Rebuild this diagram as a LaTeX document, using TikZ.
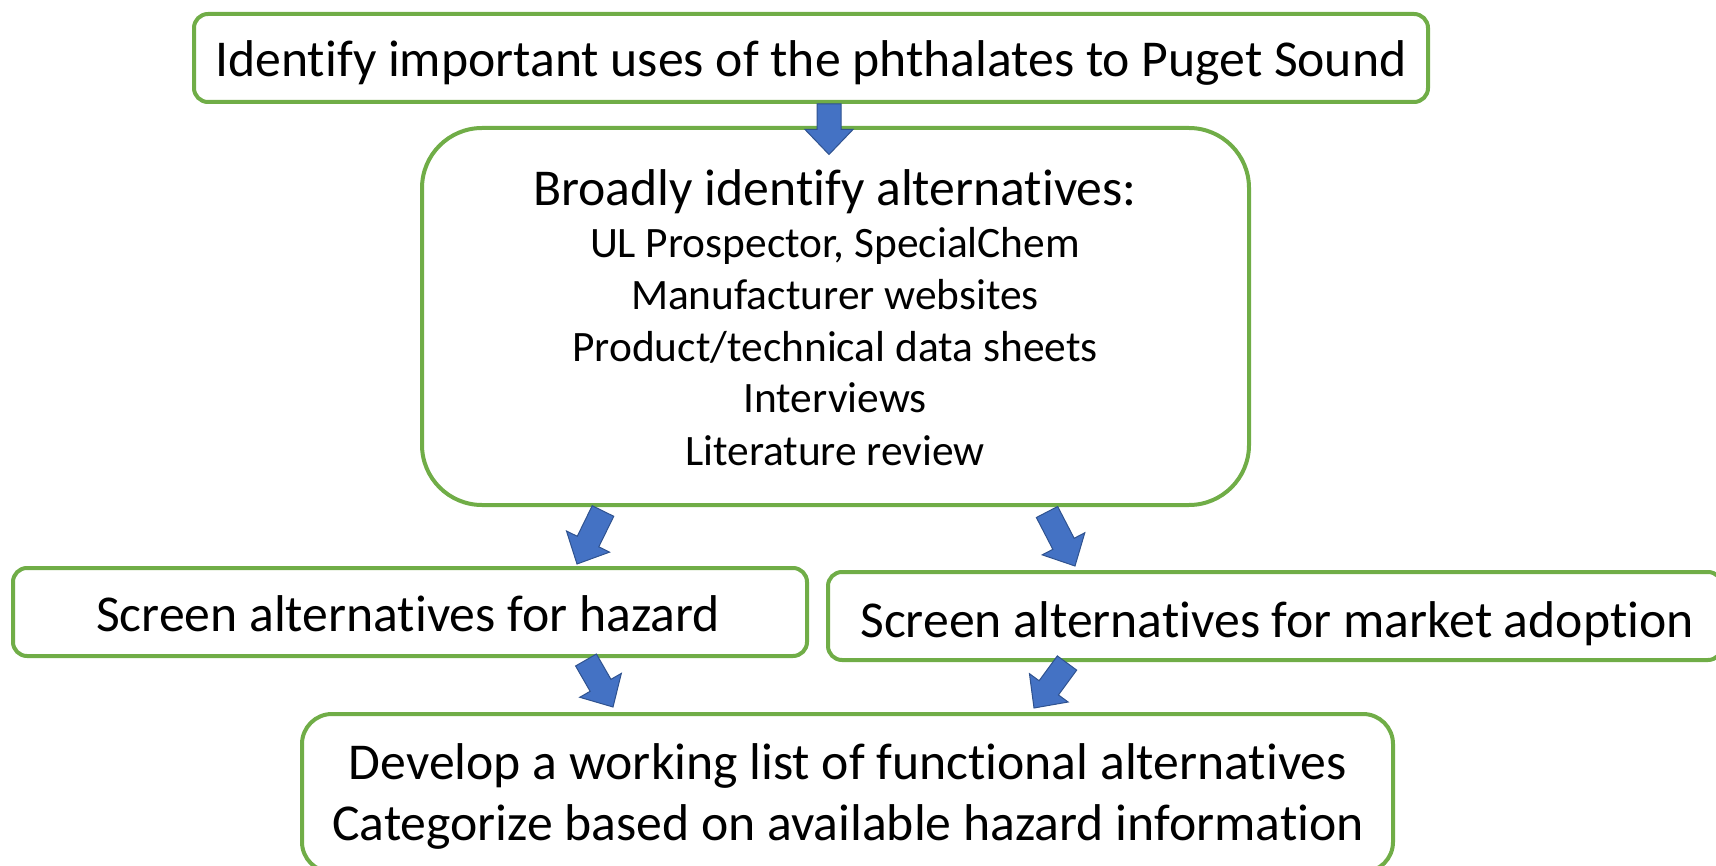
\documentclass[tikz,border=0pt]{standalone}
\usepackage{fontspec}
\setmainfont{Carlito}[Ligatures={NoCommon}]
\usetikzlibrary{calc}
\definecolor{boxgreen}{HTML}{70AD47}
\definecolor{arrowblue}{HTML}{4472C4}
\definecolor{arrowedge}{HTML}{2F528F}

\tikzset{
  stepbox/.style={draw=boxgreen, line width=4pt, fill=white, inner sep=0pt,
    rectangle, rounded corners=14pt},
  bigtext/.style={font=\fontsize{51.7}{62}\selectfont},
  smalltext/.style={font=\fontsize{43.4}{52}\selectfont},
  txt/.style={anchor=base, inner sep=0pt},
  flow/.style={fill=arrowblue, draw=arrowedge, line width=1pt, line join=miter},
}

% block arrow from coordinate #1 to the tip #2
\newcommand\fatarrow[2]{%
  \coordinate (neck) at ($(#2)!25pt!(#1)$);
  \filldraw[flow] ($(#1)!12pt!90:(#2)$) -- ($(neck)!12pt!-90:(#1)$)
    -- ($(neck)!24pt!-90:(#1)$) -- (#2) -- ($(neck)!24pt!90:(#1)$)
    -- ($(neck)!12pt!90:(#1)$) -- ($(#1)!12pt!-90:(#2)$) -- cycle;
}

\begin{document}
\begin{tikzpicture}[x=1pt, y=-1pt]
\useasboundingbox (0,0) rectangle (1716,866);

% boxes
\node[stepbox, minimum width=1234pt, minimum height=88pt] (uses) at (811,58) {};
\node[stepbox, rounded corners=60pt, minimum width=827pt, minimum height=377pt] (broad) at (835.5,316.5) {};
\node[stepbox, minimum width=794pt, minimum height=88pt] (hazard) at (410,612) {};
\node[stepbox, minimum width=894pt, minimum height=88pt] (market) at (1275,616) {};
\node[stepbox, rounded corners=30pt, minimum width=1091pt, minimum height=158pt] (develop) at (847.5,793) {};

% texts
\node[txt, bigtext] (t-uses) at (811,77) {Identify important uses of the phthalates to Puget Sound};
\node[txt, bigtext] (t-broad) at (835,206) {Broadly identify alternatives:};
\node[txt, smalltext] (t-ul) at (835,258) {UL Prospector, SpecialChem};
\node[txt, smalltext] (t-manu) at (835,310) {Manufacturer websites};
\node[txt, smalltext] (t-sheets) at (835,362) {Product/technical data sheets};
\node[txt, smalltext] (t-int) at (835,413) {Interviews};
\node[txt, smalltext] (t-lit) at (835,465) {Literature review};
\node[txt, bigtext] (t-hazard) at (408,631) {Screen alternatives for hazard};
\node[txt, bigtext] (t-market) at (1277,637) {Screen alternatives for market adoption};
\node[txt, bigtext] (t-dev) at (848,779) {Develop a working list of functional alternatives};
\node[txt, bigtext] (t-cat) at (848,840) {Categorize based on available hazard information};

% arrow ends
\coordinate (a1s) at ($(uses.south)+(18,0)$);
\coordinate (a1e) at ($(broad.north)+(-6.5,28.5)$);
\coordinate (a2s) at ($(broad.south)+(-232.5,4)$);
\coordinate (a2e) at ($(hazard.north)+(167,-2)$);
\coordinate (a3s) at ($(broad.south)+(211.5,5)$);
\coordinate (a3e) at ($(market.north)+(-200,-4)$);
\coordinate (a4s) at ($(hazard.south)+(176,2)$);
\coordinate (a4e) at ($(develop.north)+(-234.5,-5)$);
\coordinate (a5s) at ($(market.south)+(-208,1)$);
\coordinate (a5e) at ($(develop.north)+(186.5,-4)$);

\fatarrow{a1s}{a1e}
\fatarrow{a2s}{a2e}
\fatarrow{a3s}{a3e}
\fatarrow{a4s}{a4e}
\fatarrow{a5s}{a5e}
\end{tikzpicture}
\end{document}
